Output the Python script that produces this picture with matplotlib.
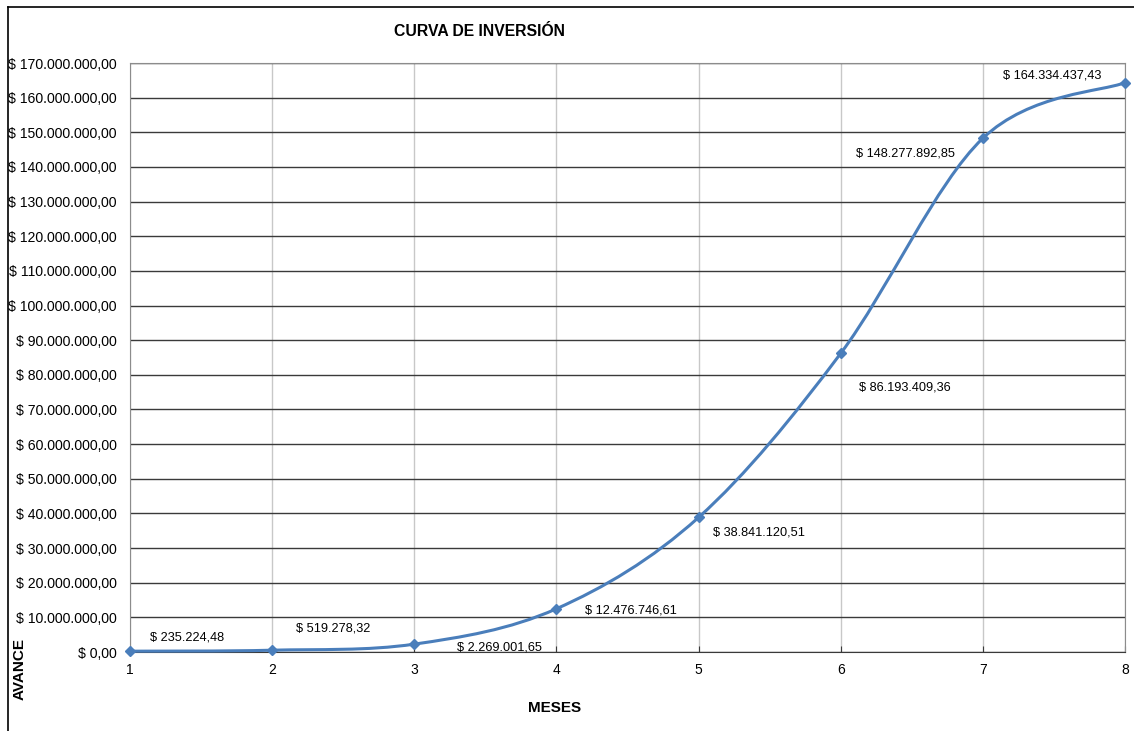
import numpy as np
import matplotlib
matplotlib.use("Agg")
import matplotlib.pyplot as plt
from matplotlib.path import Path
from matplotlib.patches import PathPatch
from matplotlib.lines import Line2D
from matplotlib.ticker import FuncFormatter, MultipleLocator

meses = [1, 2, 3, 4, 5, 6, 7, 8]
avance = [235224.48, 519278.32, 2269001.65, 12476746.61,
          38841120.51, 86193409.36, 148277892.85, 164334437.43]
etiquetas = ["$ 235.224,48", "$ 519.278,32", "$ 2.269.001,65", "$ 12.476.746,61",
             "$ 38.841.120,51", "$ 86.193.409,36", "$ 148.277.892,85", "$ 164.334.437,43"]
# label offsets in pixels (style only)
offsets = [(57, 14), (61, 22), (85, -3), (74, -2), (60, -15), (64, -34), (-77, -15), (-73, 7)]

plt.rcParams['font.family'] = ['Liberation Sans', 'DejaVu Sans']
azul = "#4a7ebb"

fig = plt.figure(figsize=(11.34, 7.31), dpi=100)
ax = fig.add_axes([130/1134, 1-652/731, (1125-130)/1134, (652-63)/731])

# smoothed line like Excel (cubic bezier through the points)
x = np.array(meses, dtype=float)
y = np.array(avance)
pts = np.column_stack([x, y])
ext = np.vstack([pts[0], pts, pts[-1]])
verts = [tuple(pts[0])]
codes = [Path.MOVETO]
for i in range(len(pts) - 1):
    p0, p1, p2, p3 = ext[i], ext[i+1], ext[i+2], ext[i+3]
    c1 = p1 + (p2 - p0) / 6
    c2 = p2 - (p3 - p1) / 6
    verts += [tuple(c1), tuple(c2), tuple(p2)]
    codes += [Path.CURVE4] * 3
ax.add_patch(PathPatch(Path(verts, codes), facecolor="none", edgecolor=azul,
                       lw=2.2, zorder=3, clip_on=False))
ax.plot(x, y, linestyle="none", marker="D", markersize=5.5, color=azul,
        zorder=4, clip_on=False)

for xi, yi, txt, (dx, dy) in zip(x, y, etiquetas, offsets):
    ax.annotate(txt, (xi, yi), xytext=(dx, dy), textcoords="offset pixels",
                ha="center", va="center", fontsize=9.2, color="#000000")

ax.set_xlim(1, 8)
ax.set_ylim(0, 170000000)
ax.yaxis.set_major_locator(MultipleLocator(10000000))
ax.xaxis.set_major_locator(MultipleLocator(1))


def pesos(v, pos):
    s = f"{v:,.2f}".replace(",", "X").replace(".", ",").replace("X", ".")
    return "$ " + s


ax.yaxis.set_major_formatter(FuncFormatter(pesos))
ax.xaxis.set_major_formatter(FuncFormatter(lambda v, p: f"{int(v)}"))

ax.grid(axis="y", color="#3a3a3a", lw=1.0)
ax.grid(axis="x", color="#c8c8c8", lw=1.0)
ax.set_axisbelow(True)
for s in ["top", "right", "left"]:
    ax.spines[s].set_color("#8c8c8c")
ax.spines["bottom"].set_color("#3a3a3a")
ax.tick_params(axis="y", length=0, pad=9.4, labelsize=10.1)
ax.tick_params(axis="x", direction="in", length=4, color="#3a3a3a", pad=8, labelsize=10)

fig.text(479/1134, 1-31/731, "CURVA DE INVERSIÓN", ha="center", va="center",
         fontsize=11.3, fontweight="bold")
fig.text(555/1134, 1-708/731, "MESES", ha="center", va="center",
         fontsize=11, fontweight="bold")
fig.text(20/1134, 1-669/731, "AVANCE", ha="center", va="center", rotation=90,
         fontsize=11, fontweight="bold")

# outer chart border (left and top visible)
fig.add_artist(Line2D([7.5/1134, 7.5/1134], [0, 1-7/731], color="black", lw=1.2))
fig.add_artist(Line2D([7.5/1134, 1], [1-7/731, 1-7/731], color="black", lw=1.2))

fig.savefig("out.png", dpi=100)
